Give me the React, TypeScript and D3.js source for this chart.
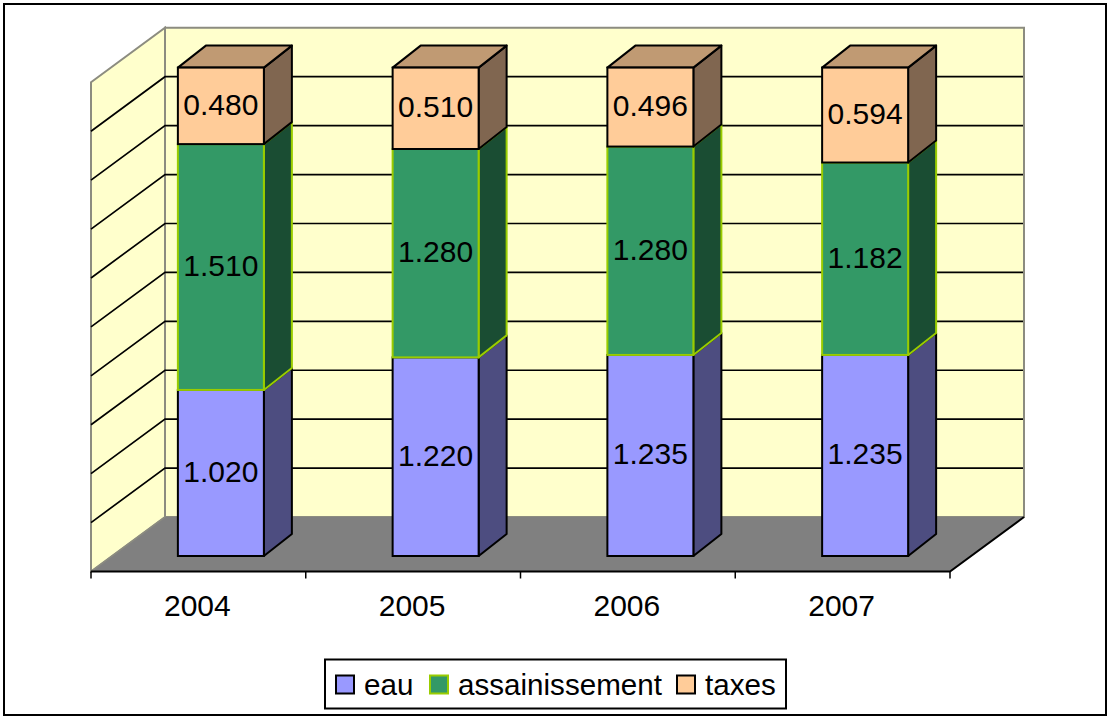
import React from "react";
import * as d3 from "d3";

const years = ["2004", "2005", "2006", "2007"];
const seriesNames = ["eau", "assainissement", "taxes"];
const eau = [1.02, 1.22, 1.235, 1.235];
const assainissement = [1.51, 1.28, 1.28, 1.182];
const taxes = [0.48, 0.51, 0.496, 0.594];
const axisTicks = [0, 0.3, 0.6, 0.9, 1.2, 1.5, 1.8, 2.1, 2.4, 2.7, 3.0];

const front = ["#9999FF", "#339966", "#FFCC99"];
const side = ["#4D4D80", "#1A4D33", "#806650"];
const topFace = "#C09A73";
const strokes = ["#000000", "#99CC00", "#000000"];

const FONT = "'Liberation Sans', Arial, sans-serif";

export default function App() {
  const floorL = 91, floorR = 950, floorY = 571.5;
  const wallDx = 74, wallDy = -54.5;
  const x = d3.scaleBand<string>().domain(years).range([floorL, floorR]);
  // wall scale (back plane)
  const yWall = d3.scaleLinear().domain([0, 3]).range([517, 27.8]);
  // bar front plane scale
  const yBar = d3.scaleLinear().domain([0, 3]).range([556, 67.6]).clamp(true);
  const barW = 86;
  const barShift = 22.5;
  const dx = 28, dy = -22;
  const values = [eau, assainissement, taxes];
  const stack = d3.stack<number>()
    .keys([0, 1, 2] as any)
    .value((i: number, k: any) => values[k][i])(d3.range(years.length));

  const wx0 = floorL + wallDx, wx1 = floorR + wallDx;
  const line = d3.line();
  const wallStroke = "#8C8C80";

  return (
    <svg width={1107} height={716} style={{ position: "absolute", left: 0, top: 0, background: "#fff" }} fontFamily={FONT}>
      <rect x={4} y={4} width={1102} height={711} fill="#fff" stroke="#000" strokeWidth={2} />
      {/* walls */}
      <path d={line([[wx0, yWall(3)], [wx1, yWall(3)], [wx1, yWall(0)], [wx0, yWall(0)]])! + "Z"} fill="#FFFFCC" stroke={wallStroke} strokeWidth={2} />
      <path d={line([[floorL, yWall(3) - wallDy], [wx0, yWall(3)], [wx0, yWall(0)], [floorL, floorY]])! + "Z"} fill="#FFFFCC" stroke={wallStroke} strokeWidth={2} />
      {/* gridlines */}
      {axisTicks.slice(1, -1).map((t) => (
        <path key={t} d={line([[floorL, yWall(t) - wallDy], [wx0, yWall(t)], [wx1 - 1, yWall(t)]])!} fill="none" stroke="#000" strokeWidth={1.7} />
      ))}
      {/* floor */}
      <path d={line([[floorL, floorY], [wx0, yWall(0)], [wx1, yWall(0)], [floorR, floorY]])! + "Z"} fill="#808080" />
      <path d={line([[floorL, floorY], [wx0, yWall(0)]])!} fill="none" stroke={wallStroke} strokeWidth={1.5} />
      <path d={line([[floorL, floorY], [floorR, floorY], [wx1, yWall(0)]])!} fill="none" stroke="#000" strokeWidth={2} />
      {/* ticks */}
      {[...years.map((y) => x(y)!), floorR].map((t) => (
        <line key={t} x1={t} x2={t} y1={floorY} y2={floorY + 7} stroke="#000" strokeWidth={1.5} />
      ))}
      {/* bars */}
      {years.map((yr, i) => {
        const xl = x(yr)! + x.bandwidth() / 2 - barW / 2 + barShift;
        const xr = xl + barW;
        return (
          <g key={yr}>
            {stack.map((s, k) => {
              const y0 = yBar(s[i][0]), y1 = yBar(s[i][1]);
              return (
                <g key={k}>
                  <path d={line([[xr, y0], [xr + dx, y0 + dy], [xr + dx, y1 + dy], [xr, y1]])! + "Z"} fill={side[k]} stroke={strokes[k]} strokeWidth={2} strokeLinejoin="round" />
                  {k === 2 && (
                    <path d={line([[xl, y1], [xl + dx, y1 + dy], [xr + dx, y1 + dy], [xr, y1]])! + "Z"} fill={topFace} stroke="#000" strokeWidth={2} strokeLinejoin="round" />
                  )}
                  <rect x={xl} y={y1} width={barW} height={y0 - y1} fill={front[k]} stroke={strokes[k]} strokeWidth={2} />
                </g>
              );
            })}
            {stack.map((s, k) => (
              <text key={k} x={(xl + xr) / 2} y={(yBar(s[i][0]) + yBar(s[i][1])) / 2 + 9} textAnchor="middle" fontSize={30} fill="#000">
                {values[k][i].toFixed(3)}
              </text>
            ))}
            <text x={x(yr)! + x.bandwidth() / 2 - 1} y={616} textAnchor="middle" fontSize={30} fill="#000">{yr}</text>
          </g>
        );
      })}
      {/* legend */}
      <rect x={325} y={659.5} width={461} height={49} fill="#fff" stroke="#000" strokeWidth={2} />
      {seriesNames.map((n, k) => {
        const sx = [336, 430, 677][k];
        const tx = [364, 458, 705][k];
        return (
          <g key={n}>
            <rect x={sx} y={675.5} width={18} height={18} fill={front[k]} stroke={strokes[k]} strokeWidth={2} />
            <text x={tx} y={695} fontSize={29.6} fill="#000">{n}</text>
          </g>
        );
      })}
    </svg>
  );
}
